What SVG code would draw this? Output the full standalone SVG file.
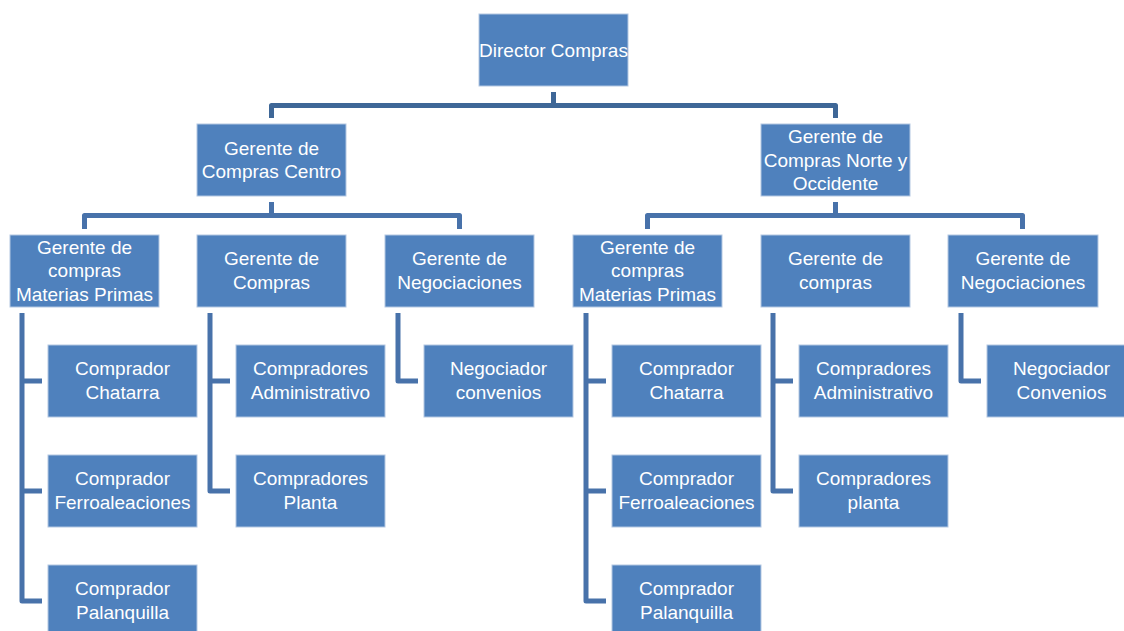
<svg xmlns="http://www.w3.org/2000/svg" width="1124" height="631" viewBox="0 0 1124 631">
<style>
.box{fill:#4f81bd;stroke:#b3c7e2;stroke-width:1}
.t{font-family:"Liberation Sans",Arial,sans-serif;font-size:19px;fill:#ffffff;text-anchor:middle}
.c1{fill:none;stroke:#3e6797;stroke-width:5;stroke-linejoin:round}
.c2{fill:none;stroke:#4872aa;stroke-width:5;stroke-linejoin:round}
</style>
<rect width="1124" height="631" fill="#ffffff"/>
<g id="connectors">
<path class="c1" d="M553.5 92 V105.5 M271.5 118 V105.5 H835.5 V118"/>
<path class="c2" d="M271.5 202 V215.5 M84.5 229 V215.5 H459.5 V229"/>
<path class="c2" d="M835.5 202 V215.5 M647.5 229 V215.5 H1022.5 V229"/>
<path class="c2" d="M42 381 H22 V313 M42 491 H22 M22 381 V601 H42"/>
<path class="c2" d="M230 381 H210 V313 M210 381 V491 H230"/>
<path class="c2" d="M418 381 H398 V313"/>
<path class="c2" d="M606 381 H586 V313 M606 491 H586 M586 381 V601 H606"/>
<path class="c2" d="M793 381 H773 V313 M773 381 V491 H793"/>
<path class="c2" d="M981 381 H961 V313"/>
</g>
<g id="director"><rect class="box" x="479" y="14" width="149" height="72"/><text class="t" x="553.5" y="56.5">Director Compras</text></g>
<g id="gerente-centro"><rect class="box" x="197" y="124" width="149" height="72"/><text class="t" x="271.5"><tspan x="271.5" y="154.5">Gerente de</tspan><tspan x="271.5" y="178">Compras Centro</tspan></text></g>
<g id="gerente-norte"><rect class="box" x="761" y="124" width="149" height="72"/><text class="t"><tspan x="835.5" y="143">Gerente de</tspan><tspan x="835.5" y="166.5">Compras Norte y</tspan><tspan x="835.5" y="190">Occidente</tspan></text></g>

<g id="c-materias"><rect class="box" x="10" y="235" width="149" height="72"/><text class="t"><tspan x="84.5" y="253.5">Gerente de</tspan><tspan x="84.5" y="277">compras</tspan><tspan x="84.5" y="300.5">Materias Primas</tspan></text></g>
<g id="c-compras"><rect class="box" x="197" y="235" width="149" height="72"/><text class="t"><tspan x="271.5" y="265">Gerente de</tspan><tspan x="271.5" y="288.5">Compras</tspan></text></g>
<g id="c-negociaciones"><rect class="box" x="385" y="235" width="149" height="72"/><text class="t"><tspan x="459.5" y="265">Gerente de</tspan><tspan x="459.5" y="288.5">Negociaciones</tspan></text></g>

<g id="n-materias"><rect class="box" x="573" y="235" width="149" height="72"/><text class="t"><tspan x="647.5" y="253.5">Gerente de</tspan><tspan x="647.5" y="277">compras</tspan><tspan x="647.5" y="300.5">Materias Primas</tspan></text></g>
<g id="n-compras"><rect class="box" x="761" y="235" width="149" height="72"/><text class="t"><tspan x="835.5" y="265">Gerente de</tspan><tspan x="835.5" y="288.5">compras</tspan></text></g>
<g id="n-negociaciones"><rect class="box" x="948" y="235" width="150" height="72"/><text class="t"><tspan x="1023" y="265">Gerente de</tspan><tspan x="1023" y="288.5">Negociaciones</tspan></text></g>

<g id="c-chatarra"><rect class="box" x="48" y="345" width="149" height="72"/><text class="t"><tspan x="122.5" y="375">Comprador</tspan><tspan x="122.5" y="398.5">Chatarra</tspan></text></g>
<g id="c-ferro"><rect class="box" x="48" y="455" width="149" height="72"/><text class="t"><tspan x="122.5" y="485">Comprador</tspan><tspan x="122.5" y="508.5">Ferroaleaciones</tspan></text></g>
<g id="c-palanquilla"><rect class="box" x="48" y="565" width="149" height="72"/><text class="t"><tspan x="122.5" y="595">Comprador</tspan><tspan x="122.5" y="618.5">Palanquilla</tspan></text></g>
<g id="c-admin"><rect class="box" x="236" y="345" width="149" height="72"/><text class="t"><tspan x="310.5" y="375">Compradores</tspan><tspan x="310.5" y="398.5">Administrativo</tspan></text></g>
<g id="c-planta"><rect class="box" x="236" y="455" width="149" height="72"/><text class="t"><tspan x="310.5" y="485">Compradores</tspan><tspan x="310.5" y="508.5">Planta</tspan></text></g>
<g id="c-negociador"><rect class="box" x="424" y="345" width="149" height="72"/><text class="t"><tspan x="498.5" y="375">Negociador</tspan><tspan x="498.5" y="398.5">convenios</tspan></text></g>

<g id="n-chatarra"><rect class="box" x="612" y="345" width="149" height="72"/><text class="t"><tspan x="686.5" y="375">Comprador</tspan><tspan x="686.5" y="398.5">Chatarra</tspan></text></g>
<g id="n-ferro"><rect class="box" x="612" y="455" width="149" height="72"/><text class="t"><tspan x="686.5" y="485">Comprador</tspan><tspan x="686.5" y="508.5">Ferroaleaciones</tspan></text></g>
<g id="n-palanquilla"><rect class="box" x="612" y="565" width="149" height="72"/><text class="t"><tspan x="686.5" y="595">Comprador</tspan><tspan x="686.5" y="618.5">Palanquilla</tspan></text></g>
<g id="n-admin"><rect class="box" x="799" y="345" width="149" height="72"/><text class="t"><tspan x="873.5" y="375">Compradores</tspan><tspan x="873.5" y="398.5">Administrativo</tspan></text></g>
<g id="n-planta"><rect class="box" x="799" y="455" width="149" height="72"/><text class="t"><tspan x="873.5" y="485">Compradores</tspan><tspan x="873.5" y="508.5">planta</tspan></text></g>
<g id="n-negociador"><rect class="box" x="987" y="345" width="149" height="72"/><text class="t"><tspan x="1061.5" y="375">Negociador</tspan><tspan x="1061.5" y="398.5">Convenios</tspan></text></g>
</svg>
